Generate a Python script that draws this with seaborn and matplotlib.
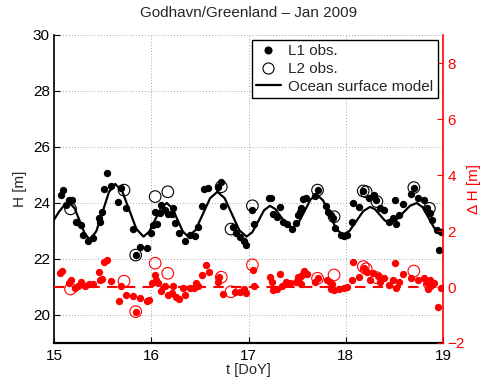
import numpy as np
import pandas as pd
import matplotlib
matplotlib.use("Agg")
import matplotlib.pyplot as plt
import seaborn as sns
from matplotlib.lines import Line2D

# ---------------- data ----------------
model_t = [15.00, 15.05, 15.10, 15.16, 15.2125, 15.265, 15.3175, 15.37, 15.435, 15.50, 15.565, 15.63,
           15.7025, 15.775, 15.8475, 15.92, 15.98, 16.04, 16.10, 16.16, 16.215, 16.27, 16.325, 16.38,
           16.455, 16.53, 16.605, 16.68, 16.755, 16.83, 16.905, 16.98, 17.04, 17.10, 17.16, 17.22,
           17.2775, 17.335, 17.3925, 17.45, 17.5125, 17.575, 17.6375, 17.70, 17.7675, 17.835, 17.9025,
           17.97, 18.04, 18.11, 18.18, 18.25, 18.30, 18.35, 18.40, 18.45, 18.52, 18.59, 18.66, 18.73,
           18.79, 18.85, 18.91, 18.97, 19.00]
model_h = [23.4, 23.68, 23.9, 24.0, 23.81, 23.35, 22.89, 22.7, 22.99, 23.69, 24.39, 24.68,
           24.41, 23.74, 23.07, 22.8, 22.98, 23.4, 23.82, 24.0, 23.82, 23.4, 22.98, 22.8,
           23.03, 23.6, 24.17, 24.4, 24.17, 23.6, 23.03, 22.8, 22.96, 23.35, 23.74, 23.9,
           23.78, 23.5, 23.22, 23.1, 23.28, 23.7, 24.12, 24.3, 24.09, 23.58, 23.07,
           22.86, 23.01, 23.36, 23.71, 23.86, 23.78, 23.58, 23.38, 23.3, 23.40, 23.65, 23.90, 24.0,
           23.85, 23.48, 23.11, 22.96, 22.9]

l1_t = [15.07, 15.09, 15.12, 15.15, 15.18, 15.23, 15.28, 15.30, 15.35, 15.40, 15.46, 15.47, 15.49,
        15.51, 15.55, 15.59, 15.66, 15.69, 15.74, 15.81, 15.84, 15.88, 15.96, 16.00, 16.02, 16.04,
        16.06, 16.09, 16.10, 16.14, 16.17, 16.21, 16.22, 16.24, 16.29, 16.35, 16.40, 16.45, 16.48,
        16.52, 16.54, 16.58, 16.69, 16.72, 16.74, 16.84, 16.87, 16.91, 16.95, 16.97, 17.04, 17.06,
        17.21, 17.23, 17.25, 17.29, 17.32, 17.35, 17.40, 17.45, 17.49, 17.51, 17.53, 17.54, 17.56,
        17.59, 17.68, 17.71, 17.80, 17.82, 17.85, 17.87, 17.89, 17.95, 17.98, 18.01, 18.06, 18.07,
        18.14, 18.18, 18.24, 18.29, 18.31, 18.35, 18.39, 18.44, 18.49, 18.51, 18.52, 18.55, 18.59,
        18.67, 18.70, 18.74, 18.80, 18.84, 18.87, 18.89, 18.94, 18.96, 18.98]
l1_h = [24.29, 24.46, 23.93, 24.10, 24.10, 23.33, 23.20, 22.86, 22.64, 22.75, 23.48, 23.33, 23.69,
        24.50, 25.06, 24.62, 24.05, 24.52, 23.81, 23.06, 22.14, 22.44, 22.38, 22.92, 23.21, 23.69,
        23.24, 23.63, 23.93, 23.75, 23.60, 23.60, 23.81, 23.28, 22.92, 22.64, 22.86, 22.83, 23.15,
        23.90, 24.50, 24.55, 24.58, 24.74, 23.90, 23.15, 22.92, 22.80, 22.64, 22.50, 23.75, 23.24,
        24.19, 24.19, 23.60, 23.51, 23.87, 23.33, 23.24, 23.07, 23.28, 23.57, 23.69, 23.83, 24.14,
        24.19, 24.26, 24.46, 23.90, 23.69, 23.57, 23.45, 23.12, 22.86, 22.83, 22.86, 23.31, 23.99,
        23.87, 24.43, 24.17, 24.29, 24.10, 23.83, 23.75, 23.33, 23.48, 24.10, 23.24, 23.57, 23.95,
        24.31, 24.55, 24.19, 24.10, 23.83, 23.63, 23.39, 23.04, 22.32, 22.98]

l2_t = [15.17, 15.72, 15.84, 16.04, 16.17, 16.72, 16.82, 17.04, 17.71, 17.88, 18.18, 18.21, 18.32,
        18.70, 18.86]
l2_h = [23.79, 24.46, 22.14, 24.23, 24.40, 24.58, 23.07, 23.90, 24.46, 23.51, 24.43, 24.40, 24.05,
        24.55, 23.81]

r1_t = [15.06, 15.08, 15.15, 15.17, 15.22, 15.25, 15.28, 15.32, 15.36, 15.40, 15.46, 15.47, 15.49,
        15.51, 15.55, 15.59, 15.67, 15.69, 15.74, 15.81, 15.84, 15.88, 15.96, 15.98, 16.01, 16.04,
        16.05, 16.07, 16.10, 16.14, 16.17, 16.21, 16.22, 16.25, 16.29, 16.33, 16.35, 16.40, 16.44,
        16.46, 16.48, 16.52, 16.56, 16.59, 16.69, 16.70, 16.74, 16.86, 16.91, 16.95, 16.97, 17.05,
        17.06, 17.22, 17.24, 17.25, 17.29, 17.32, 17.34, 17.39, 17.43, 17.49, 17.51, 17.53, 17.54,
        17.55, 17.57, 17.60, 17.68, 17.71, 17.81, 17.84, 17.85, 17.86, 17.88, 17.93, 17.98, 18.01,
        18.06, 18.07, 18.14, 18.19, 18.22, 18.25, 18.28, 18.33, 18.35, 18.39, 18.44, 18.49, 18.51,
        18.52, 18.55, 18.59, 18.67, 18.74, 18.80, 18.84, 18.85, 18.87, 18.88, 18.91, 18.95, 18.98]
r1_dh = [0.49, 0.57, 0.13, 0.25, -0.05, 0.05, 0.19, 0.05, 0.10, 0.10, 0.55, 0.25, 0.29,
         0.88, 0.96, 0.21, -0.50, 0.05, -0.29, -0.32, -0.88, -0.38, -0.50, -0.46, 0.13, 0.43,
         0.25, 0.13, -0.14, 0.05, -0.29, -0.23, 0.05, -0.35, -0.43, -0.05, -0.29, -0.05, -0.02,
         0.13, 0.05, 0.43, 0.79, 0.52, 0.19, 0.37, -0.26, -0.19, -0.19, -0.07, -0.23, 0.61,
         0.05, 0.37, 0.19, -0.10, -0.07, 0.45, 0.05, 0.19, 0.13, 0.19, 0.37, 0.37, 0.10,
         0.43, 0.57, 0.45, 0.17, 0.31, 0.25, 0.17, -0.07, 0.10, -0.11, -0.07, -0.02, 0.01,
         0.25, 0.90, 0.37, 0.67, 0.55, 0.25, 0.49, 0.40, 0.19, 0.33, 0.07, 0.25, 0.85,
         -0.02, 0.19, 0.45, 0.31, 0.25, 0.31, 0.13, -0.07, 0.25, 0.07, 0.13, -0.70, -0.02]

r2_t = l2_t
r2_dh = [-0.07, 0.21, -0.88, 0.85, 0.49, 0.35, -0.17, 0.79, 0.31, 0.43, 0.73, 0.65, 0.33, 0.57, 0.10]

x_ticks = [15, 16, 17, 18, 19]
y_ticks = [20, 22, 24, 26, 28, 30]
y2_ticks = [-2, 0, 2, 4, 6, 8]

title = "Godhavn/Greenland \u2013 Jan 2009"
legend_labels = ["L1 obs.", "L2 obs.", "Ocean surface model"]

# ---------------- plot ----------------
sns.set_style("white")
plt.rcParams['font.family'] = ['Liberation Sans', 'DejaVu Sans']
plt.rcParams['font.size'] = 10

fig = plt.figure(figsize=(4.85, 3.77), dpi=100)
ax = fig.add_axes([54 / 485, 1 - 343 / 377, (443 - 54) / 485, (343 - 35) / 377])
ax2 = ax.twinx()

df_model = pd.DataFrame({"t": model_t, "h": model_h})
df_l1 = pd.DataFrame({"t": l1_t, "h": l1_h})
df_l2 = pd.DataFrame({"t": l2_t, "h": l2_h})
df_r1 = pd.DataFrame({"t": r1_t, "dh": r1_dh})
df_r2 = pd.DataFrame({"t": r2_t, "dh": r2_dh})

sns.lineplot(data=df_model, x="t", y="h", ax=ax, color="black", lw=1.6, zorder=3)
sns.scatterplot(data=df_l1, x="t", y="h", ax=ax, color="black", s=28, linewidth=0, zorder=4)
sns.scatterplot(data=df_l2, x="t", y="h", ax=ax, marker="o", s=70, facecolors="none",
                edgecolors="black", linewidth=0.8, zorder=5)

ax2.axhline(0, color="red", lw=1.5, ls=(0, (5, 3.5)), zorder=2)
sns.scatterplot(data=df_r1, x="t", y="dh", ax=ax2, color="red", s=28, linewidth=0, zorder=4)
sns.scatterplot(data=df_r2, x="t", y="dh", ax=ax2, marker="o", s=70, facecolors="none",
                edgecolors="red", linewidth=0.8, zorder=5)

ax.set_xlim(15, 19)
ax.set_ylim(19, 30)
ax2.set_ylim(-2, 9)
ax.set_xticks(x_ticks)
ax.set_xticklabels([str(v) for v in x_ticks], fontsize=11)
ax.set_yticks(y_ticks)
ax.set_yticklabels([str(v) for v in y_ticks], fontsize=11)
ax2.set_yticks(y2_ticks)
ax2.set_yticklabels([("\u2212" + str(-v)) if v < 0 else str(v) for v in y2_ticks], fontsize=11, color="red")

ax.grid(True, linestyle=(0, (1, 2.5)), color="#888888", lw=0.6)
ax.set_axisbelow(True)

ax.tick_params(axis="both", direction="in", length=4, width=0.8, colors="black", pad=3)
ax.tick_params(axis="y", left=True, right=False)
ax.tick_params(axis="x", bottom=True, top=False, pad=4)
ax2.tick_params(axis="y", direction="in", length=4, width=0.8, colors="red", right=True, pad=3)

for a in (ax, ax2):
    for sp in a.spines.values():
        sp.set_visible(False)
ax.spines["left"].set_visible(True)
ax.spines["bottom"].set_visible(True)
ax.spines["left"].set_color("black")
ax.spines["bottom"].set_color("black")
ax.spines["left"].set_linewidth(1.2)
ax.spines["bottom"].set_linewidth(1.6)
ax2.spines["right"].set_visible(True)
ax2.spines["right"].set_color("red")
ax2.spines["right"].set_linewidth(1.2)

ax.set_xlabel("t [DoY]", fontsize=10.5, labelpad=0.5)
ax.set_ylabel("H [m]", fontsize=11, labelpad=4)
ax2.set_ylabel("\u0394 H [m]", fontsize=11, color="red", labelpad=2)
ax.set_title(title, fontsize=11, pad=13)

handles = [
    Line2D([], [], ls="none", marker="o", markersize=4.8, color="black"),
    Line2D([], [], ls="none", marker="o", markersize=8, markerfacecolor="none",
           markeredgecolor="black", markeredgewidth=0.8),
    Line2D([], [], color="black", lw=1.6),
]
leg = ax2.legend(handles, legend_labels, loc="upper right", bbox_to_anchor=(0.995, 0.995),
                 frameon=True, fancybox=False, edgecolor="black", framealpha=1,
                 fontsize=11, handlelength=1.6, borderpad=0.3, labelspacing=0.25,
                 handletextpad=0.5, borderaxespad=0.2)
leg.get_frame().set_linewidth(1.0)

fig.savefig("out.png", dpi=100)
